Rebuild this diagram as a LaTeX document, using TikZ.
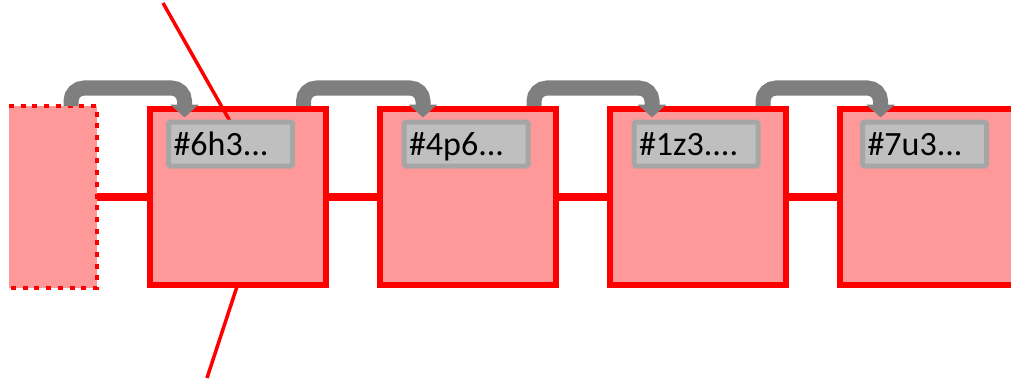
\documentclass[tikz,border=0pt]{standalone}
\usepackage{fontspec}
\setmainfont{Carlito}
\usetikzlibrary{arrows.meta}
\definecolor{boxpink}{RGB}{255,153,153}
\definecolor{tagfill}{RGB}{191,191,191}
\definecolor{tagline}{RGB}{166,166,166}
\definecolor{hopgray}{RGB}{127,127,127}

\begin{document}
\begin{tikzpicture}[x=1pt,y=1pt,
	blk/.style={draw=red,fill=boxpink,line width=6pt,outer sep=0,inner sep=0,minimum width=176pt,minimum height=176pt},
	tag/.style={draw=tagline,fill=tagfill,line width=5pt,rounded corners=1.5pt,outer sep=0,inner xsep=5pt,inner ysep=0,text width=114pt,align=left,minimum height=44pt,text height=22pt,text depth=0pt,anchor=north west,font=\fontsize{34}{40}\selectfont},
	hop/.style={draw=hopgray,line width=15pt,rounded corners=13pt,-{Triangle[width=28pt,length=13pt]}},
	link/.style={red,line width=7.5pt},
	ray/.style={red,line width=3.5pt}]
	\useasboundingbox (0,0) rectangle (1011,381);
	\node[fill=boxpink,inner sep=0,outer sep=0,minimum width=88pt,minimum height=182pt] (b0) at (53,184) {};
	\draw[red,line width=4.5pt,dash pattern=on 5pt off 6.7pt] (b0.north west) -- (b0.north east) -- (b0.south east) -- (b0.south west);
	\node[blk] (b1) at (237.5,184) {};
	\node[blk] (b2) at (468,184) {};
	\node[blk] (b3) at (698,184) {};
	\node[blk] (b4) at (927.5,184) {};
	\draw[link] (b0.east) -- (b1.west);
	\draw[link] (b1.east) -- (b2.west);
	\draw[link] (b2.east) -- (b3.west);
	\draw[link] (b3.east) -- (b4.west);
	\coordinate (up) at (163,378);
	\coordinate (dn) at (207,3);
	\draw[ray] (b1.south) -- (dn);
	\draw[ray] (up) -- (231,258);
	\node[tag] (t1) at ([shift={(19,-13)}]b1.north west) {\#6h3...};
	\node[tag] (t2) at ([shift={(24,-13)}]b2.north west) {\#4p6...};
	\node[tag] (t3) at ([shift={(24,-13)}]b3.north west) {\#1z3....};
	\node[tag] (t4) at ([shift={(23,-13)}]b4.north west) {\#7u3...};
	\draw[hop] ([xshift=-26pt]b0.north east) -- ++(0,18) -| ([shift={(16,4.5)}]t1.north west);
	\draw[hop] ([shift={(-22,3)}]b1.north east) -- ++(0,18) -| ([shift={(19,4.5)}]t2.north west);
	\draw[hop] ([shift={(-22,3)}]b2.north east) -- ++(0,18) -| ([shift={(18,4.5)}]t3.north west);
	\draw[hop] ([shift={(-23,3)}]b3.north east) -- ++(0,18) -| ([shift={(18,4.5)}]t4.north west);
\end{tikzpicture}
\end{document}
